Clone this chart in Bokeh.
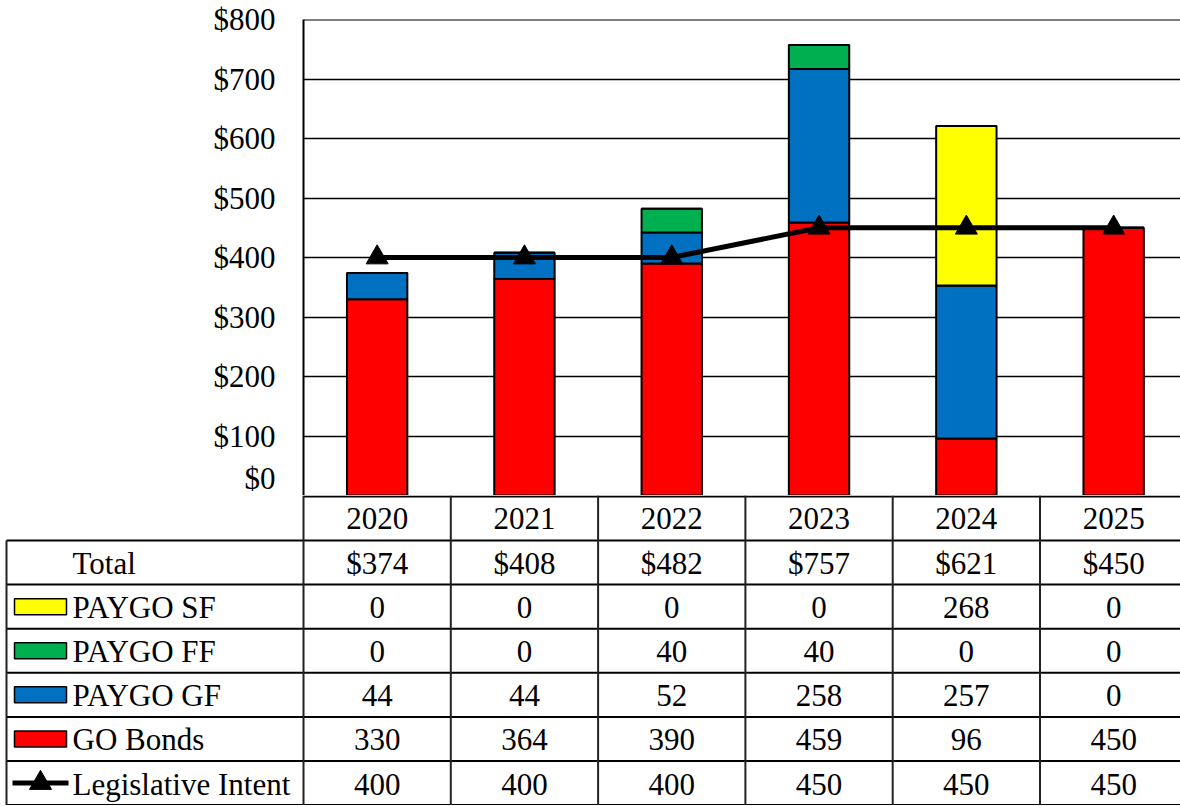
from bokeh.plotting import figure
from bokeh.layouts import column
from bokeh.models import Range1d, ColumnDataSource, PrintfTickFormatter, FixedTicker, Span
from bokeh.core.properties import value
from bokeh.embed import file_html
from bokeh.resources import INLINE

years = ["2020", "2021", "2022", "2023", "2024", "2025"]
go_bonds = [330, 364, 390, 459, 96, 450]
paygo_gf = [44, 44, 52, 258, 257, 0]
paygo_ff = [0, 0, 40, 40, 0, 0]
paygo_sf = [0, 0, 0, 0, 268, 0]
intent = [400, 400, 400, 450, 450, 450]
totals = [374, 408, 482, 757, 621, 450]
y_ticks = [0, 100, 200, 300, 400, 500, 600, 700, 800]

series_names = ["GO Bonds", "PAYGO GF", "PAYGO FF", "PAYGO SF"]
series_colors = ["#FF0000", "#0070C0", "#00B050", "#FFFF00"]

FONT = "Liberation Serif"
FS = "31px"

W = 1180
LABEL_W = 303
TOP_H = 495
TAB_H = 310
col_w = 147.3  # px per category column (last column runs past the page edge)

xpos = [i + 0.5 for i in range(len(years))]
src = ColumnDataSource(dict(x=xpos, go=go_bonds, gf=paygo_gf, ff=paygo_ff, sf=paygo_sf, intent=intent))

p = figure(width=W, height=TOP_H, x_range=Range1d(0, (W - LABEL_W) / col_w), y_range=Range1d(0, 800),
           output_backend="svg", toolbar_location=None, min_border_left=LABEL_W, min_border_right=0,
           min_border_top=19, min_border_bottom=0)
p.frame_align = False
p.outline_line_color = None
p.vbar_stack(["go", "gf", "ff", "sf"], x="x", width=0.41, color=series_colors,
             line_color="black", line_width=2, source=src)
p.line("x", "intent", source=src, line_color="black", line_width=5)
p.scatter("x", "intent", source=src, marker="triangle", size=22, color="black")
p.add_layout(Span(location=800, dimension="width", line_color="black", line_width=2))
p.xaxis.visible = False
p.xgrid.visible = False
p.ygrid.grid_line_color = "black"
p.ygrid.grid_line_width = 1.5
p.yaxis.ticker = FixedTicker(ticks=y_ticks)
p.yaxis.formatter = PrintfTickFormatter(format="$%d")
p.yaxis.major_tick_line_color = None
p.yaxis.minor_tick_line_color = None
p.yaxis.axis_line_color = "black"
p.yaxis.axis_line_width = 2
p.yaxis.major_label_text_font = FONT
p.yaxis.major_label_text_font_size = FS
p.yaxis.major_label_text_color = "black"
p.yaxis.major_label_standoff = 22

# table
t = figure(width=W, height=TAB_H, x_range=Range1d(0, W), y_range=Range1d(TAB_H, 0),
           output_backend="svg", toolbar_location=None, min_border=0)
t.frame_align = False
t.outline_line_color = None
t.axis.visible = False
t.grid.visible = False

head_h = 45
row_h = 44.1
centers = [LABEL_W + (i + 0.5) * col_w for i in range(len(years))]
left_x = 6

# horizontal lines
hx0, hx1, hy = [LABEL_W], [W], [1]
for k in range(7):
    hx0.append(left_x); hx1.append(W); hy.append(head_h + k * row_h)
t.segment(x0=hx0, x1=hx1, y0=hy, y1=hy, line_color="black", line_width=2)
# vertical lines
vx = [left_x] + [LABEL_W + i * col_w for i in range(len(years))]
vy0 = [head_h] + [0] * len(years)
t.segment(x0=vx, x1=vx, y0=vy0, y1=[head_h + 6 * row_h] * len(vx), line_color="#222222", line_width=2)

# header
t.text(x=centers, y=[head_h / 2] * len(years), text=years, text_align="center", text_baseline="middle",
       text_font=value(FONT), text_font_size=FS, text_color="black")

row_labels = ["Total", "PAYGO SF", "PAYGO FF", "PAYGO GF", "GO Bonds", "Legislative Intent"]
row_vals = [["$%d" % v for v in totals], [str(v) for v in paygo_sf], [str(v) for v in paygo_ff],
            [str(v) for v in paygo_gf], [str(v) for v in go_bonds], [str(v) for v in intent]]
for r, (lab, vals) in enumerate(zip(row_labels, row_vals)):
    yc = head_h + (r + 0.5) * row_h
    t.text(x=centers, y=[yc + 1] * len(years), text=vals, text_align="center", text_baseline="middle",
           text_font=value(FONT), text_font_size=FS, text_color="black")
    t.text(x=[72], y=[yc + 1], text=[lab], text_align="left", text_baseline="middle",
           text_font=value(FONT), text_font_size=FS, text_color="black")

# legend keys
key_colors = {"PAYGO SF": "#FFFF00", "PAYGO FF": "#00B050", "PAYGO GF": "#0070C0", "GO Bonds": "#FF0000"}
for r, lab in enumerate(row_labels):
    yc = head_h + (r + 0.5) * row_h
    if lab in key_colors:
        t.rect(x=[40], y=[yc], width=52, height=16, fill_color=key_colors[lab], line_color="black", line_width=1.5)
    elif lab == "Legislative Intent":
        t.segment(x0=[12], x1=[68], y0=[yc], y1=[yc], line_color="black", line_width=5)
        t.scatter(x=[40], y=[yc], marker="triangle", size=22, color="black")

layout = column(p, t, spacing=0)
open("out.html", "w").write(file_html(layout, INLINE))
